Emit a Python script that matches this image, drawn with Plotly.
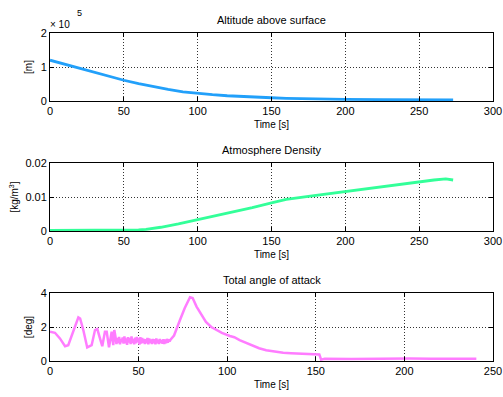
import plotly.graph_objects as go

# ---------------- data ----------------
alt_t = [0, 10, 20, 30, 40, 50, 60, 70, 80, 90, 100, 110, 120, 130, 140, 150, 160, 175, 200, 225, 250, 273]
alt_m = [120000, 108000, 96000, 84000, 72000, 61000, 51000, 42000, 34000, 27000, 22000, 18500,
         15500, 13000, 11000, 9500, 8000, 6500, 5000, 4000, 3500, 3000]

rho_t = [0, 20, 40, 55, 60, 65, 75, 87, 100, 112, 125, 137, 150, 160, 175, 187, 200, 212, 225, 237, 250, 260, 268, 273]
rho_v = [0.0002, 0.0002, 0.0002, 0.0002, 0.0003, 0.0005, 0.0011, 0.0021, 0.0033, 0.0045, 0.0057, 0.0069,
         0.0083, 0.0093, 0.0102, 0.0109, 0.0117, 0.0124, 0.0131, 0.0138, 0.0145, 0.0150, 0.0153, 0.0150]

aoa_t = [0, 2.8, 5.6, 8.5, 10.3, 13, 16, 17, 18.8, 21, 23.5, 25.4, 26.7, 28.2, 29.5, 31, 32, 33.3, 34.8, 35.7, 36.3,
         37, 37.5, 38, 38.5, 39, 39.5, 40, 40.5, 41, 41.5, 42, 42.5, 43, 43.5, 44, 44.5, 45, 45.5, 46, 46.5,
         47, 47.5, 48, 48.5, 49, 49.5, 50, 50.5, 51, 51.5, 52, 52.5, 53, 53.5, 54, 54.5, 55, 55.5, 56, 56.5,
         57, 57.5, 58, 58.5, 59, 59.5, 60, 60.5, 61, 61.5, 62, 62.5, 63, 63.5, 64, 64.5, 65, 65.5, 66, 66.5,
         67, 67.5, 68,
         70, 73.3, 76, 79, 80.5, 82.7, 85, 88, 91, 94, 97, 101.5, 104, 107, 111, 114.7, 118, 122, 126, 131.6,
         136, 141, 146, 150, 152, 153, 155, 170, 185, 198, 200, 203, 215, 222, 225, 228, 240.6]
aoa_v = [1.72, 1.66, 1.33, 0.87, 0.93, 1.72, 2.57, 2.5, 1.82, 0.8, 0.93, 1.82, 1.88, 1.33, 0.87, 1.72, 1.72, 0.8, 1.72, 0.93, 1.82,
         1.40, 1.00, 1.35, 1.05, 1.42, 0.98, 1.30, 1.10, 1.38, 1.02, 1.45, 1.05, 1.33, 0.95, 1.40, 1.08, 1.36, 1.00, 1.44, 1.06,
         1.30, 0.98, 1.38, 1.04, 1.42, 1.10, 1.34, 0.96, 1.40, 1.02, 1.36, 1.08, 1.30, 1.00, 1.28, 1.04, 1.35, 0.98, 1.32, 1.06,
         1.26, 1.00, 1.30, 1.05, 1.28, 0.98, 1.32, 1.04, 1.25, 1.00, 1.30, 1.06, 1.24, 1.02, 1.28, 1.00, 1.26, 1.05, 1.30, 1.08,
         1.28, 1.15, 1.25,
         1.5, 2.4, 3.1, 3.75, 3.7, 3.2, 2.8, 2.3, 2.0, 1.82, 1.65, 1.47, 1.40, 1.23, 1.05, 0.87, 0.75, 0.63, 0.55, 0.48,
         0.46, 0.44, 0.42, 0.40, 0.38, 0.08, 0.13, 0.12, 0.13, 0.13, 0.17, 0.14, 0.13, 0.13, 0.17, 0.14, 0.13]

alt_ticks = [0, 100000, 200000]
alt_ticktext = ["0", "1", "2"]

# ---------------- figure ----------------
W, H = 503, 397
xd = [50 / W, 493 / W]
def yd(top, bot):
    return [(H - bot) / H, (H - top) / H]

FONT = "Liberation Sans, Arial, sans-serif"

fig = go.Figure()
fig.add_trace(go.Scatter(x=alt_t, y=alt_m, mode="lines", line=dict(color="#22A0FA", width=2.8),
                         xaxis="x", yaxis="y", showlegend=False))
fig.add_trace(go.Scatter(x=rho_t, y=rho_v, mode="lines", line=dict(color="#33FF99", width=2.8),
                         xaxis="x2", yaxis="y2", showlegend=False))
fig.add_trace(go.Scatter(x=aoa_t, y=aoa_v, mode="lines", line=dict(color="#FF7CFF", width=2.5),
                         xaxis="x3", yaxis="y3", showlegend=False))

common = dict(showline=True, linecolor="black", linewidth=1, mirror="ticks", ticks="inside",
              ticklen=4, tickcolor="black", showgrid=True, gridcolor="#333333", griddash="1px,2px",
              gridwidth=1, zeroline=False, automargin=False,
              tickfont=dict(size=11, color="black", family=FONT))

xt = dict(title=dict(text="Time [s]", font=dict(size=10, color="black", family=FONT), standoff=4))

fig.update_layout(
    width=W, height=H, margin=dict(l=0, r=0, t=0, b=0, autoexpand=False),
    paper_bgcolor="white", plot_bgcolor="white",
    font=dict(family=FONT, color="black"),
    xaxis=dict(domain=xd, anchor="y", range=[0, 300], tickvals=[0, 50, 100, 150, 200, 250, 300], **common, **xt),
    yaxis=dict(domain=yd(33, 101), anchor="x", range=[0, 200000], tickvals=alt_ticks, ticktext=alt_ticktext,
               title=dict(text="[m]", font=dict(size=10, family=FONT), standoff=6), **common),
    xaxis2=dict(domain=xd, anchor="y2", range=[0, 300], tickvals=[0, 50, 100, 150, 200, 250, 300], **common, **xt),
    yaxis2=dict(domain=yd(163, 231), anchor="x2", range=[0, 0.02], tickvals=[0, 0.01, 0.02],
                ticktext=["0", "0.01", "0.02"],
                title=dict(text="[kg/m<sup>3</sup>]", font=dict(size=10, family=FONT), standoff=4), **common),
    xaxis3=dict(domain=xd, anchor="y3", range=[0, 250], tickvals=[0, 50, 100, 150, 200, 250], **common, **xt),
    yaxis3=dict(domain=yd(293, 361), anchor="x3", range=[0, 4], tickvals=[0, 2, 4],
                title=dict(text="[deg]", font=dict(size=10, family=FONT), standoff=6), **common),
)

titles = [("Altitude above surface", 20), ("Atmosphere Density", 150), ("Total angle of attack", 280)]
for txt, ypx in titles:
    fig.add_annotation(text=txt, x=271.5 / W, y=(H - ypx) / H, xref="paper", yref="paper",
                       showarrow=False, font=dict(size=11, color="black", family=FONT),
                       xanchor="center", yanchor="middle")

fig.add_annotation(text="× 10", x=48 / W, y=(H - 25) / H, xref="paper", yref="paper",
                   showarrow=False, font=dict(size=10, color="black", family=FONT),
                   xanchor="left", yanchor="middle")
fig.add_annotation(text="5", x=75 / W, y=(H - 13) / H, xref="paper", yref="paper",
                   showarrow=False, font=dict(size=9, color="black", family=FONT),
                   xanchor="left", yanchor="middle")

fig.write_html("out.html")
